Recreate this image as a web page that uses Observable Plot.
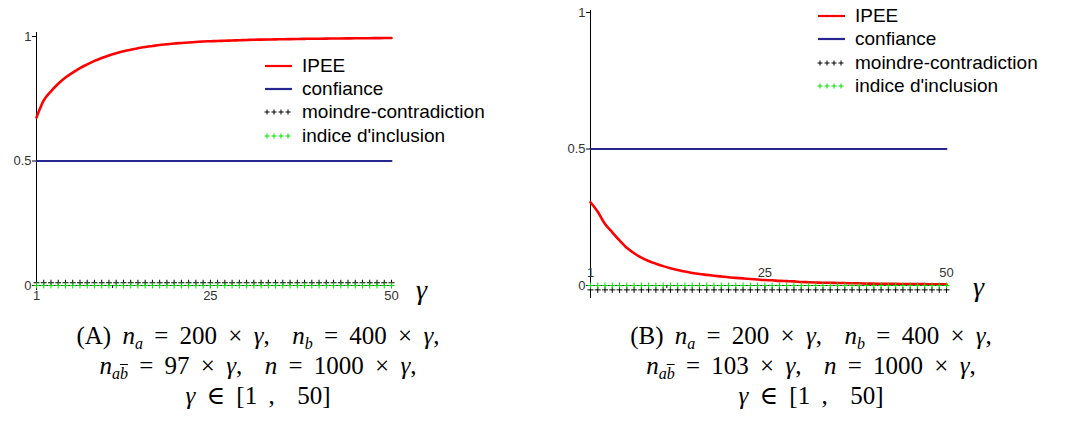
<!DOCTYPE html>
<html>
<head>
<meta charset="utf-8">
<script src="https://cdn.jsdelivr.net/npm/d3@7"></script>
<script src="https://cdn.jsdelivr.net/npm/@observablehq/plot@0.6"></script>
<style>
  html, body { margin: 0; padding: 0; background: #fff; }
  #root { position: relative; width: 1081px; height: 421px; overflow: hidden; background: #fff; }
  .panel { position: absolute; top: 0; }
  .legend { position: absolute; font-family: "Liberation Sans", Arial, sans-serif; font-size: 19px; color: #000; }
  .legend .row { position: absolute; left: 0; height: 22px; white-space: nowrap; display: flex; align-items: center; }
  .legend .row svg { width: 30px; height: 22px; margin-right: 8px; }
  .gam { position: absolute; font-family: "Liberation Serif", "DejaVu Serif", serif; font-style: italic; font-size: 28px; color: #000; }
  .cap { position: absolute; width: 540px; text-align: center; font-family: "Liberation Serif", "DejaVu Serif", serif; font-size: 25px; word-spacing: 5px; color: #000; line-height: 30px; white-space: nowrap; }
  .cap i { font-style: italic; }
  .cap sub { font-size: 16px; vertical-align: -5px; line-height: 0; word-spacing: 0; }
  .ob { text-decoration: overline; }
</style>
</head>
<body>
<div id="root"></div>
<script>
// ---- data ----
const gamma = [1,2,3,4,5,6,7,8,9,10,11,12,13,14,15,16,17,18,19,20,21,22,23,24,25,26,27,28,29,30,31,32,33,34,35,36,37,38,39,40,41,42,43,44,45,46,47,48,49,50];

const ipeeA = [0.675,0.743,0.780,0.810,0.835,0.855,0.873,0.888,0.902,0.914,0.924,0.933,0.941,0.947,0.953,0.958,0.962,0.966,0.969,0.972,0.974,0.976,0.978,0.980,0.981,0.982,0.983,0.984,0.985,0.986,0.987,0.9875,0.988,0.9885,0.989,0.9895,0.990,0.9905,0.991,0.9912,0.9915,0.992,0.9922,0.9925,0.9928,0.993,0.9932,0.9935,0.9937,0.994];
const confA = [0.5,0.5,0.5,0.5,0.5,0.5,0.5,0.5,0.5,0.5,0.5,0.5,0.5,0.5,0.5,0.5,0.5,0.5,0.5,0.5,0.5,0.5,0.5,0.5,0.5,0.5,0.5,0.5,0.5,0.5,0.5,0.5,0.5,0.5,0.5,0.5,0.5,0.5,0.5,0.5,0.5,0.5,0.5,0.5,0.5,0.5,0.5,0.5,0.5,0.5];
const moindreA = [0.011,0.011,0.011,0.011,0.011,0.011,0.011,0.011,0.011,0.011,0.011,0.011,0.011,0.011,0.011,0.011,0.011,0.011,0.011,0.011,0.011,0.011,0.011,0.011,0.011,0.011,0.011,0.011,0.011,0.011,0.011,0.011,0.011,0.011,0.011,0.011,0.011,0.011,0.011,0.011,0.011,0.011,0.011,0.011,0.011,0.011,0.011,0.011,0.011,0.011];
const inclA = [0,0,0,0,0,0,0,0,0,0,0,0,0,0,0,0,0,0,0,0,0,0,0,0,0,0,0,0,0,0,0,0,0,0,0,0,0,0,0,0,0,0,0,0,0,0,0,0,0,0];

const ipeeB = [0.305,0.270,0.225,0.195,0.165,0.138,0.118,0.102,0.090,0.080,0.071,0.063,0.057,0.051,0.046,0.042,0.039,0.036,0.033,0.030,0.028,0.026,0.024,0.022,0.020,0.019,0.017,0.016,0.015,0.013,0.012,0.011,0.010,0.010,0.009,0.009,0.008,0.008,0.007,0.007,0.006,0.006,0.006,0.005,0.005,0.005,0.005,0.004,0.004,0.004];
const confB = [0.5,0.5,0.5,0.5,0.5,0.5,0.5,0.5,0.5,0.5,0.5,0.5,0.5,0.5,0.5,0.5,0.5,0.5,0.5,0.5,0.5,0.5,0.5,0.5,0.5,0.5,0.5,0.5,0.5,0.5,0.5,0.5,0.5,0.5,0.5,0.5,0.5,0.5,0.5,0.5,0.5,0.5,0.5,0.5,0.5,0.5,0.5,0.5,0.5,0.5];
const moindreB = [-0.016,-0.016,-0.016,-0.016,-0.016,-0.016,-0.016,-0.016,-0.016,-0.016,-0.016,-0.016,-0.016,-0.016,-0.016,-0.016,-0.016,-0.016,-0.016,-0.016,-0.016,-0.016,-0.016,-0.016,-0.016,-0.016,-0.016,-0.016,-0.016,-0.016,-0.016,-0.016,-0.016,-0.016,-0.016,-0.016,-0.016,-0.016,-0.016,-0.016,-0.016,-0.016,-0.016,-0.016,-0.016,-0.016,-0.016,-0.016,-0.016,-0.016];
const inclB = [0,0,0,0,0,0,0,0,0,0,0,0,0,0,0,0,0,0,0,0,0,0,0,0,0,0,0,0,0,0,0,0,0,0,0,0,0,0,0,0,0,0,0,0,0,0,0,0,0,0];

const yTicks = [0, 0.5, 1];
const yTickLabels = ["0", "0.5", "1"];
const xTickLabelled = [1, 25, 50];
const xTickMinor = [11.5, 38];
const seriesNames = ["IPEE", "confiance", "moindre-contradiction", "indice d'inclusion"];
const colors = {ipee: "#ff0000", conf: "#262690", moindre: "#000000", incl: "#00e000"};

function table(ipee, conf, moindre, incl) {
  return gamma.map((g, i) => ({g, ipee: ipee[i], conf: conf[i], moindre: moindre[i], incl: incl[i]}));
}

// small fixed-size "+" marker
const plusSymbol = {
  draw(ctx) {
    const a = 3;
    ctx.moveTo(-a, 0); ctx.lineTo(a, 0);
    ctx.moveTo(0, -a); ctx.lineTo(0, a);
  }
};

function panel(data, opts) {
  const marks = [
    Plot.ruleX([1], {y1: opts.axisLo, y2: opts.axisHi, stroke: "#000", strokeWidth: 1}),
    Plot.ruleY([0], {x1: 1, x2: 50, stroke: "#000", strokeWidth: 1}),
    Plot.axisY({ticks: yTicks, tickSize: 4, tickPadding: 1, tickFormat: d => yTickLabels[yTicks.indexOf(d)], label: null, fontSize: 13, fill: "#333"}),
    Plot.axisX({ticks: xTickMinor, tickSize: 3, tickFormat: () => "", label: null}),
  ];
  if (opts.labelsAbove) {
    marks.push(Plot.axisX({ticks: xTickLabelled, tickSize: 3, tickFormat: () => "", label: null}));
    marks.push(Plot.text(xTickLabelled, {x: d => d, y: 0, dy: -13, text: d => String(d), fontSize: 13, fill: "#333"}));
  } else {
    marks.push(Plot.axisX({ticks: xTickLabelled, tickSize: 3, tickPadding: 2, label: null, fontSize: 13, fill: "#333"}));
  }
  marks.push(
    Plot.line(data, {x: "g", y: "conf", stroke: colors.conf, strokeWidth: 2}),
    Plot.line(data, {x: "g", y: "ipee", stroke: colors.ipee, strokeWidth: 2.6, curve: "monotone-x"}),
    Plot.dot(data, {x: "g", y: "moindre", symbol: plusSymbol, fill: "none", stroke: colors.moindre, strokeWidth: 1}),
    Plot.dot(data, {x: "g", y: "incl", symbol: plusSymbol, fill: "none", stroke: colors.incl, strokeWidth: 1})
  );
  return Plot.plot({
    width: opts.width, height: 310,
    marginLeft: opts.ml, marginRight: opts.mr, marginTop: opts.mt, marginBottom: 25,
    x: {domain: [1, 50], label: null},
    y: {domain: [0, 1], label: null},
    style: {fontFamily: "Liberation Sans, Arial, sans-serif", fontSize: "13px", background: "transparent", overflow: "visible"},
    marks
  });
}

const root = document.getElementById("root");

function addPanel(left, svg) {
  const d = document.createElement("div");
  d.className = "panel";
  d.style.left = left + "px";
  d.appendChild(svg);
  root.appendChild(d);
}

addPanel(0, panel(table(ipeeA, confA, moindreA, inclA), {width: 540, ml: 36, mr: 149, mt: 36, axisLo: -0.02, axisHi: 1.016, labelsAbove: false}));
addPanel(540, panel(table(ipeeB, confB, moindreB, inclB), {width: 541, ml: 50, mr: 135, mt: 12, axisLo: -0.048, axisHi: 1.007, labelsAbove: true}));

function sample(kind, color) {
  if (kind === "line") {
    return `<svg viewBox="0 0 30 22"><line x1="1" x2="28" y1="11" y2="11" stroke="${color}" stroke-width="2.2"/></svg>`;
  }
  let s = `<svg viewBox="0 0 30 22">`;
  for (let k = 0; k < 4; k++) {
    const cx = 3 + k * 7;
    s += `<path d="M${cx - 2.5},11H${cx + 2.5}M${cx},8.5V13.5" stroke="${color}" stroke-width="1" fill="none"/>`;
  }
  return s + `</svg>`;
}

function addLegend(left, top, spacing) {
  const lg = document.createElement("div");
  lg.className = "legend";
  lg.style.left = left + "px";
  lg.style.top = top + "px";
  const kinds = [["line", colors.ipee], ["line", colors.conf], ["plus", colors.moindre], ["plus", colors.incl]];
  seriesNames.forEach((name, i) => {
    const r = document.createElement("div");
    r.className = "row";
    r.style.top = (i * spacing) + "px";
    r.innerHTML = sample(kinds[i][0], kinds[i][1]) + `<span>${name}</span>`;
    lg.appendChild(r);
  });
  root.appendChild(lg);
}
addLegend(264, 55, 23.2);
addLegend(817, 5, 23.3);

function addGamma(left, top) {
  const g = document.createElement("div");
  g.className = "gam";
  g.style.left = left + "px";
  g.style.top = top + "px";
  g.textContent = "γ";
  root.appendChild(g);
}
addGamma(416, 274);
addGamma(973, 271);

function addCaption(center, letter, nab) {
  const c = document.createElement("div");
  c.className = "cap";
  c.style.left = (center - 270) + "px";
  c.style.top = "321px";
  c.innerHTML =
    `<div>(${letter}) <i>n</i><sub><i>a</i></sub> = 200 × <i>γ</i>,&nbsp; <i>n</i><sub><i>b</i></sub> = 400 × <i>γ</i>,</div>` +
    `<div><i>n</i><sub><i>a</i><i class="ob">b</i></sub> = ${nab} × <i>γ</i>,&nbsp; <i>n</i> = 1000 × <i>γ</i>,</div>` +
    `<div><i>γ</i> ∈ [1 ,&nbsp; 50]</div>`;
  root.appendChild(c);
}
addCaption(258, "A", 97);
addCaption(811, "B", 103);
</script>
</body>
</html>
